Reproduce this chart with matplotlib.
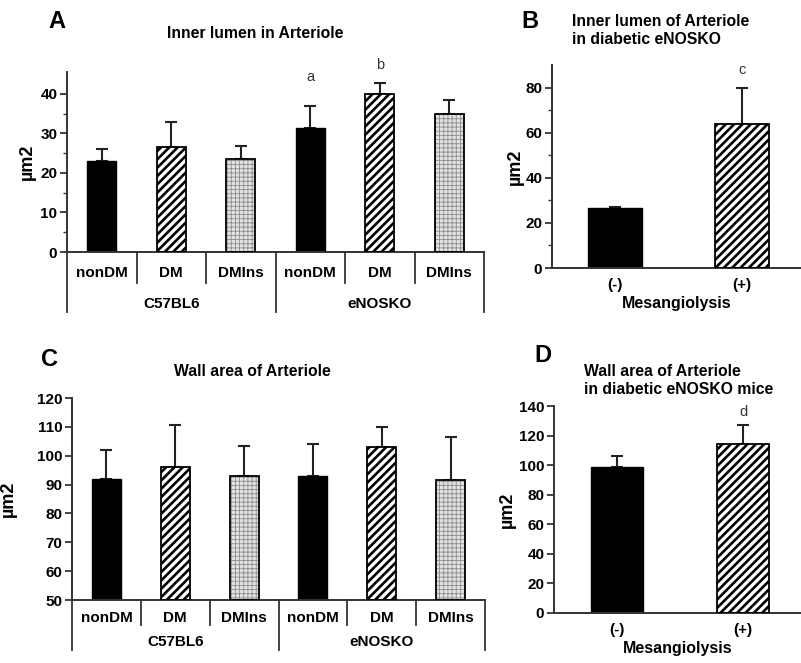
import matplotlib
matplotlib.use("Agg")
import matplotlib.pyplot as plt
from matplotlib.transforms import blended_transform_factory

plt.rcParams["font.family"] = ["Liberation Sans", "DejaVu Sans"]
plt.rcParams["font.weight"] = "bold"

W, H = 801, 663

# ---- data ----
strain_cats = ["nonDM", "DM", "DMIns", "nonDM", "DM", "DMIns"]
strain_groups = ["C57BL6", "eNOSKO"]
bar_styles = ["solid", "stripe", "dots", "solid", "stripe", "dots"]

lumen_mean = [23.0, 26.5, 23.5, 31.3, 40.0, 34.8]
lumen_err = [3.0, 6.3, 3.3, 5.7, 2.7, 3.6]
lumen_letters = ["", "", "", "a", "b", ""]
lumen_letter_y = [0, 0, 0, 44.3, 47.3, 0]

lumen_meso_cats = ["(-)", "(+)"]
lumen_meso_mean = [26.5, 63.8]
lumen_meso_err = [0.6, 15.8]
lumen_meso_letters = ["", "c"]
lumen_meso_letter_y = [0, 88]

wall_mean = [92.0, 96.0, 93.0, 93.0, 103.0, 91.6]
wall_err = [10.0, 14.5, 10.5, 11.0, 7.0, 15.0]

wall_meso_cats = ["(-)", "(+)"]
wall_meso_mean = [98.5, 114.0]
wall_meso_err = [8.0, 13.0]
wall_meso_letters = ["", "d"]
wall_meso_letter_y = [0, 136]

fig = plt.figure(figsize=(W / 100, H / 100), dpi=100)


def px_axes(l, r, top, bottom):
    return fig.add_axes([l / W, 1 - bottom / H, (r - l) / W, (bottom - top) / H])


def style_axes(ax):
    for s in ["top", "right"]:
        ax.spines[s].set_visible(False)
    for s in ["left", "bottom"]:
        ax.spines[s].set_linewidth(1.4)
        ax.spines[s].set_color("#333333")
    ax.tick_params(axis="y", which="major", length=5, width=1.3, labelsize=11,
                   pad=2, color="#333333")
    ax.tick_params(axis="y", which="minor", length=3, width=1.0, color="#333333")
    for lbl in ax.get_yticklabels():
        lbl.set_fontweight("bold")


def draw_bars(ax, xs, means, errs, styles, width, base=0):
    for x, m, e, st in zip(xs, means, errs, styles):
        if st == "solid":
            ax.bar(x, m - base, width, bottom=base, color="black",
                   edgecolor="black", linewidth=1, zorder=2)
            continue
        if st == "stripe":
            with plt.rc_context({"hatch.linewidth": 1.9}):
                ax.bar(x, m - base, width, bottom=base, color="white",
                       edgecolor="black", hatch="////", linewidth=0, zorder=2)
        else:
            with plt.rc_context({"hatch.linewidth": 0.6}):
                ax.bar(x, m - base, width, bottom=base, color="#e2e2e2",
                       edgecolor="#8c8c8c", hatch="++++", linewidth=0, zorder=2)
        ax.bar(x, m - base, width, bottom=base, fill=False,
               edgecolor="black", linewidth=1.3, zorder=3)
    ax.errorbar(xs, means, yerr=[[0] * len(errs), errs], fmt="none",
                ecolor="#222222", elinewidth=1.5, capsize=4, capthick=1.5,
                zorder=1)


def draw_letters(ax, xs, letters, ys):
    for x, t, y in zip(xs, letters, ys):
        if t:
            ax.text(x, y, t, ha="center", va="center", fontsize=10.5,
                    fontweight="normal", color="#333333")


def strain_axis(ax, short_drop, long_drop, cat_y, grp_y):
    tr = blended_transform_factory(ax.transData, ax.transAxes)
    ax.set_xticks([])
    for xb in [0.5, 1.5, 3.5, 4.5]:
        ax.plot([xb, xb], [0, -short_drop], transform=tr, clip_on=False,
                color="#333333", lw=1.3)
    for xb in [-0.5, 2.5, 5.5]:
        ax.plot([xb, xb], [0, -long_drop], transform=tr, clip_on=False,
                color="#333333", lw=1.3)
    for i, c in enumerate(strain_cats):
        ax.text(i, -cat_y, c, transform=tr, ha="center", va="center",
                fontsize=11, fontweight="bold")
    for i, g in enumerate(strain_groups):
        ax.text(1 + 3 * i, -grp_y, g, transform=tr, ha="center", va="center",
                fontsize=11, fontweight="bold")


xs6 = list(range(len(strain_cats)))
xs2 = list(range(len(lumen_meso_cats)))
TITLE_FS = 11.3

# ---- A ----
axA = px_axes(67, 484, 72, 252)
draw_bars(axA, xs6, lumen_mean, lumen_err, bar_styles, 0.42)
axA.set_xlim(-0.5, 5.5)
axA.set_ylim(0, 45.5)
axA.set_yticks([0, 10, 20, 30, 40])
axA.set_yticks(range(5, 45, 10), minor=True)
style_axes(axA)
strain_axis(axA, 31 / 180, 60 / 180, 21 / 180, 52 / 180)
draw_letters(axA, xs6, lumen_letters, lumen_letter_y)
axA.set_ylabel("µm2", fontsize=13, fontweight="bold", labelpad=3)
fig.text(57 / W, 1 - 22 / H, "A", fontsize=17, fontweight="bold",
         ha="center", va="center")
fig.text(255 / W, 1 - 33 / H, "Inner lumen in Arteriole", fontsize=TITLE_FS,
         fontweight="bold", ha="center", va="center")

# ---- B ----
axB = px_axes(552, 801, 65, 268)
draw_bars(axB, xs2, lumen_meso_mean, lumen_meso_err, ["solid", "stripe"], 0.42)
axB.set_xlim((552 - 615) / 127, (801 - 615) / 127)
axB.set_ylim(0, 90)
axB.set_yticks([0, 20, 40, 60, 80])
axB.set_yticks(range(10, 90, 20), minor=True)
style_axes(axB)
axB.set_xticks(xs2)
axB.set_xticklabels(lumen_meso_cats, fontsize=11, fontweight="bold")
axB.tick_params(axis="x", length=0, pad=7)
axB.set_xlabel("Mesangiolysis", fontsize=11.5, fontweight="bold", labelpad=3)
draw_letters(axB, xs2, lumen_meso_letters, lumen_meso_letter_y)
axB.set_ylabel("µm2", fontsize=13, fontweight="bold", labelpad=1)
fig.text(530 / W, 1 - 22 / H, "B", fontsize=17, fontweight="bold",
         ha="center", va="center")
fig.text(572 / W, 1 - 31 / H, "Inner lumen of Arteriole\nin diabetic eNOSKO",
         fontsize=TITLE_FS, fontweight="bold", ha="left", va="center",
         linespacing=1.25)

# ---- C ----
axC = px_axes(72, 485, 398, 600)
draw_bars(axC, xs6, wall_mean, wall_err, bar_styles, 0.42, base=50)
axC.set_xlim(-0.5, 5.5)
axC.set_ylim(50, 120)
axC.set_yticks(range(50, 121, 10))
style_axes(axC)
strain_axis(axC, 25 / 202, 50 / 202, 18 / 202, 42 / 202)
axC.set_ylabel("µm2", fontsize=13, fontweight="bold", labelpad=14)
fig.text(49 / W, 1 - 360 / H, "C", fontsize=17, fontweight="bold",
         ha="center", va="center")
fig.text(252 / W, 1 - 372 / H, "Wall area of Arteriole", fontsize=TITLE_FS,
         fontweight="bold", ha="center", va="center")

# ---- D ----
axD = px_axes(554, 801, 406, 613)
draw_bars(axD, xs2, wall_meso_mean, wall_meso_err, ["solid", "stripe"], 0.42)
axD.set_xlim((554 - 617) / 126, (801 - 617) / 126)
axD.set_ylim(0, 140)
axD.set_yticks(range(0, 141, 20))
style_axes(axD)
axD.set_xticks(xs2)
axD.set_xticklabels(wall_meso_cats, fontsize=11, fontweight="bold")
axD.tick_params(axis="x", length=0, pad=7)
axD.set_xlabel("Mesangiolysis", fontsize=11.5, fontweight="bold", labelpad=3)
draw_letters(axD, xs2, wall_meso_letters, wall_meso_letter_y)
axD.set_ylabel("µm2", fontsize=13, fontweight="bold", labelpad=2)
fig.text(543 / W, 1 - 356 / H, "D", fontsize=17, fontweight="bold",
         ha="center", va="center")
fig.text(584 / W, 1 - 380 / H, "Wall area of Arteriole\nin diabetic eNOSKO mice",
         fontsize=TITLE_FS, fontweight="bold", ha="left", va="center",
         linespacing=1.25)

fig.savefig("out.png", dpi=100)
